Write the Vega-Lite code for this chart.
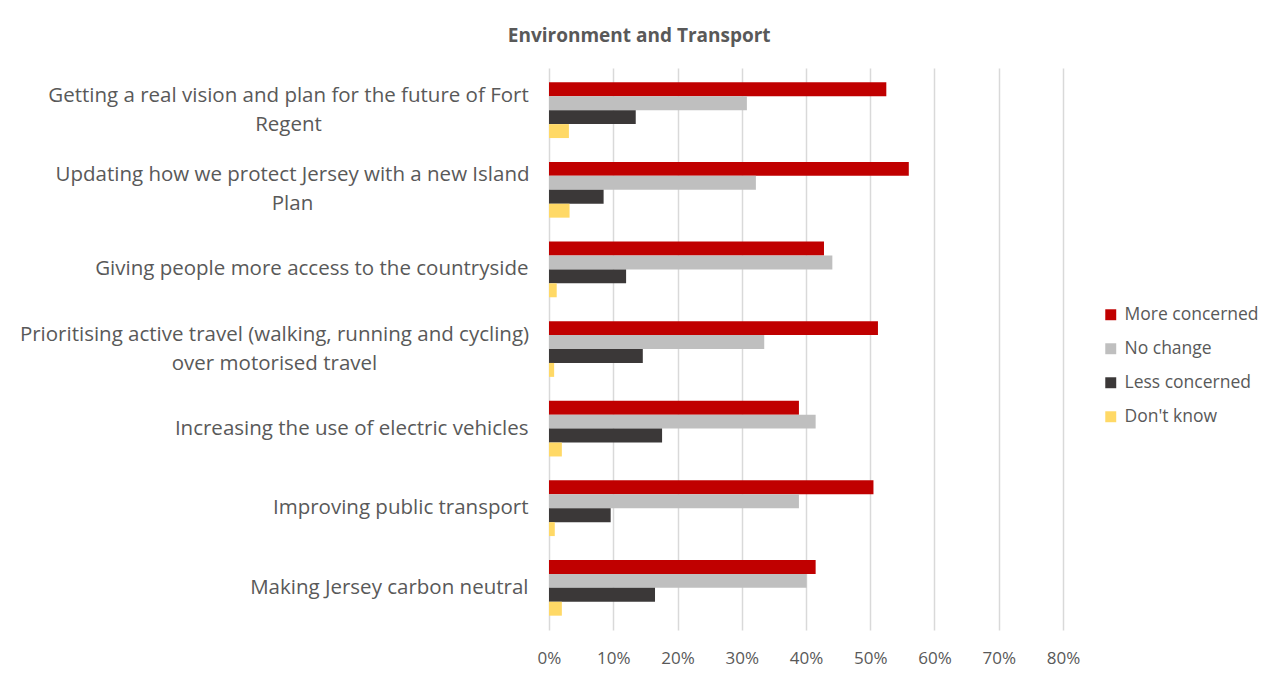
{
  "$schema": "https://vega.github.io/schema/vega-lite/v6.json",
  "autosize": {"type": "none"},
  "padding": {"left": 549, "top": 68, "right": 204, "bottom": 45},
  "width": 514,
  "height": 562,
  "background": "white",
  "title": {
    "text": "Environment and Transport",
    "anchor": "middle",
    "frame": "bounds",
    "font": "Open Sans",
    "fontSize": 19,
    "fontWeight": "bold",
    "color": "#595959",
    "offset": 22
  },
  "config": {
    "view": {"stroke": null},
    "font": "Open Sans"
  },
  "data": {
    "values": [
      {"item": "Getting a real vision and plan for the future of Fort|Regent", "series": "More concerned", "value": 0.525},
      {"item": "Getting a real vision and plan for the future of Fort|Regent", "series": "No change", "value": 0.308},
      {"item": "Getting a real vision and plan for the future of Fort|Regent", "series": "Less concerned", "value": 0.135},
      {"item": "Getting a real vision and plan for the future of Fort|Regent", "series": "Don't know", "value": 0.031},
      {"item": "Updating how we protect Jersey with a new Island|Plan", "series": "More concerned", "value": 0.560},
      {"item": "Updating how we protect Jersey with a new Island|Plan", "series": "No change", "value": 0.322},
      {"item": "Updating how we protect Jersey with a new Island|Plan", "series": "Less concerned", "value": 0.085},
      {"item": "Updating how we protect Jersey with a new Island|Plan", "series": "Don't know", "value": 0.032},
      {"item": "Giving people more access to the countryside", "series": "More concerned", "value": 0.428},
      {"item": "Giving people more access to the countryside", "series": "No change", "value": 0.441},
      {"item": "Giving people more access to the countryside", "series": "Less concerned", "value": 0.120},
      {"item": "Giving people more access to the countryside", "series": "Don't know", "value": 0.012},
      {"item": "Prioritising active travel (walking, running and cycling)|over motorised travel", "series": "More concerned", "value": 0.512},
      {"item": "Prioritising active travel (walking, running and cycling)|over motorised travel", "series": "No change", "value": 0.335},
      {"item": "Prioritising active travel (walking, running and cycling)|over motorised travel", "series": "Less concerned", "value": 0.146},
      {"item": "Prioritising active travel (walking, running and cycling)|over motorised travel", "series": "Don't know", "value": 0.008},
      {"item": "Increasing the use of electric vehicles", "series": "More concerned", "value": 0.389},
      {"item": "Increasing the use of electric vehicles", "series": "No change", "value": 0.415},
      {"item": "Increasing the use of electric vehicles", "series": "Less concerned", "value": 0.176},
      {"item": "Increasing the use of electric vehicles", "series": "Don't know", "value": 0.020},
      {"item": "Improving public transport", "series": "More concerned", "value": 0.505},
      {"item": "Improving public transport", "series": "No change", "value": 0.389},
      {"item": "Improving public transport", "series": "Less concerned", "value": 0.096},
      {"item": "Improving public transport", "series": "Don't know", "value": 0.009},
      {"item": "Making Jersey carbon neutral", "series": "More concerned", "value": 0.415},
      {"item": "Making Jersey carbon neutral", "series": "No change", "value": 0.401},
      {"item": "Making Jersey carbon neutral", "series": "Less concerned", "value": 0.165},
      {"item": "Making Jersey carbon neutral", "series": "Don't know", "value": 0.020}
    ]
  },
  "mark": {"type": "bar"},
  "encoding": {
    "y": {
      "field": "item",
      "type": "nominal",
      "sort": null,
      "scale": {"paddingInner": 0.3, "paddingOuter": 0.18},
      "axis": {
        "title": null,
        "ticks": false,
        "domain": false,
        "labelExpr": "split(datum.label, '|')",
        "labelFontSize": 20.5,
        "labelLineHeight": 29,
        "labelColor": "#595959",
        "labelLimit": 600,
        "labelOffset": {"expr": "indexof(datum.value, '|') >= 0 ? -14.5 : 0"},
        "labelAlign": {"expr": "indexof(datum.value, '|') >= 0 ? 'center' : 'right'"},
        "labelPadding": {"expr": "indexof(datum.value, 'Fort') >= 0 ? 261 : indexof(datum.value, 'Island') >= 0 ? 257 : indexof(datum.value, 'Prioritising') >= 0 ? 275 : 21"}
      }
    },
    "yOffset": {
      "field": "series",
      "type": "nominal",
      "sort": ["More concerned", "No change", "Less concerned", "Don't know"]
    },
    "x": {
      "field": "value",
      "type": "quantitative",
      "scale": {"domain": [0, 0.8]},
      "axis": {
        "title": null,
        "format": ".0%",
        "values": [0, 0.1, 0.2, 0.3, 0.4, 0.5, 0.6, 0.7, 0.8],
        "domain": false,
        "ticks": false,
        "labelFlush": false,
        "gridColor": "#d9d9d9",
        "gridWidth": 1.5,
        "labelFontSize": 17,
        "labelColor": "#595959",
        "labelPadding": 20
      }
    },
    "color": {
      "field": "series",
      "type": "nominal",
      "sort": ["More concerned", "No change", "Less concerned", "Don't know"],
      "scale": {
        "domain": ["More concerned", "No change", "Less concerned", "Don't know"],
        "range": ["#C00000", "#BFBFBF", "#3B3838", "#FFD966"]
      },
      "legend": {
        "title": null,
        "orient": "none",
        "legendX": 553,
        "legendY": 238,
        "symbolType": "square",
        "symbolSize": 120,
        "symbolStrokeWidth": 0,
        "labelFontSize": 17.5,
        "labelColor": "#595959",
        "labelOffset": 5,
        "rowPadding": 15
      }
    }
  }
}
